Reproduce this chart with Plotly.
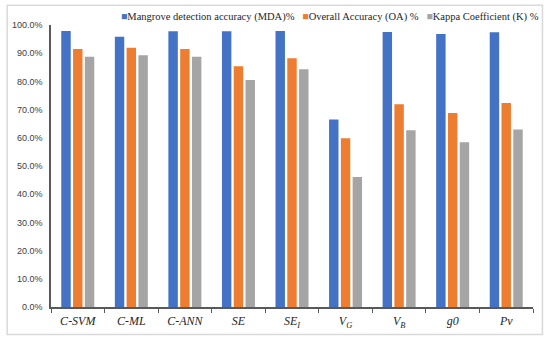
import plotly.graph_objects as go

categories = ["<i>C-SVM</i>", "<i>C-ML</i>", "<i>C-ANN</i>", "<i>SE</i>", "<i>SE<sub>I</sub></i>",
              "<i>V<sub>G</sub></i>", "<i>V<sub>B</sub></i>", "<i>g0</i>", "<i>Pv</i>"]
mda = [0.979, 0.958, 0.978, 0.978, 0.979, 0.665, 0.975, 0.968, 0.974]
oa = [0.915, 0.919, 0.915, 0.854, 0.882, 0.598, 0.719, 0.688, 0.723]
kappa = [0.887, 0.893, 0.887, 0.805, 0.843, 0.461, 0.627, 0.584, 0.629]
series_names = ["Mangrove detection accuracy (MDA)%", "Overall Accuracy (OA) %", "Kappa Coefficient (K) %"]
colors = ["#4472C4", "#ED7D31", "#A5A5A5"]

fig = go.Figure()
for name, vals, c in zip(series_names, [mda, oa, kappa], colors):
    fig.add_trace(go.Bar(x=categories, y=vals, name=name, marker_color=c,
                         marker_line_width=0, showlegend=False))

legend_text = "&nbsp;&nbsp;&nbsp;".join(
    f"<span style='color:{c}'>■</span>{n}" for n, c in zip(series_names, colors))

fig.update_layout(
    width=550, height=342,
    margin=dict(l=49, r=17, t=25, b=35),
    paper_bgcolor="white", plot_bgcolor="white",
    barmode="group", bargap=0.34, bargroupgap=0.2,
    hovermode=False,
    xaxis=dict(showline=True, linecolor="#595959", linewidth=1.5,
               ticks="outside", tickson="boundaries", ticklen=4, tickcolor="#595959",
               ticklabelstandoff=2,
               tickfont=dict(family="Liberation Serif", size=12, color="#262626")),
    yaxis=dict(range=[0, 1], dtick=0.1, tickformat=".1%", showgrid=False, zeroline=False,
               showline=True, linecolor="#595959", linewidth=1.5, ticks="",
               ticklabelstandoff=5,
               tickfont=dict(family="Liberation Sans", size=9, color="#404040")),
    annotations=[dict(xref="paper", yref="paper", x=(117 - 49) / 484, y=(307.5 - 17) / 282.5,
                      xanchor="left", yanchor="middle", showarrow=False, text=legend_text,
                      font=dict(family="Liberation Serif", size=10.5, color="#262626"))],
    shapes=[dict(type="rect", xref="paper", yref="paper",
                 x0=(5 - 49) / 484, x1=(542.5 - 49) / 484,
                 y0=(307.5 - 335) / 282.5, y1=(307.5 - 5.3) / 282.5,
                 line=dict(color="#D9D9D9", width=1.5), layer="below")],
)

fig.write_html("out.html", config={"displayModeBar": False},
               post_script="document.body.style.margin='0';")
